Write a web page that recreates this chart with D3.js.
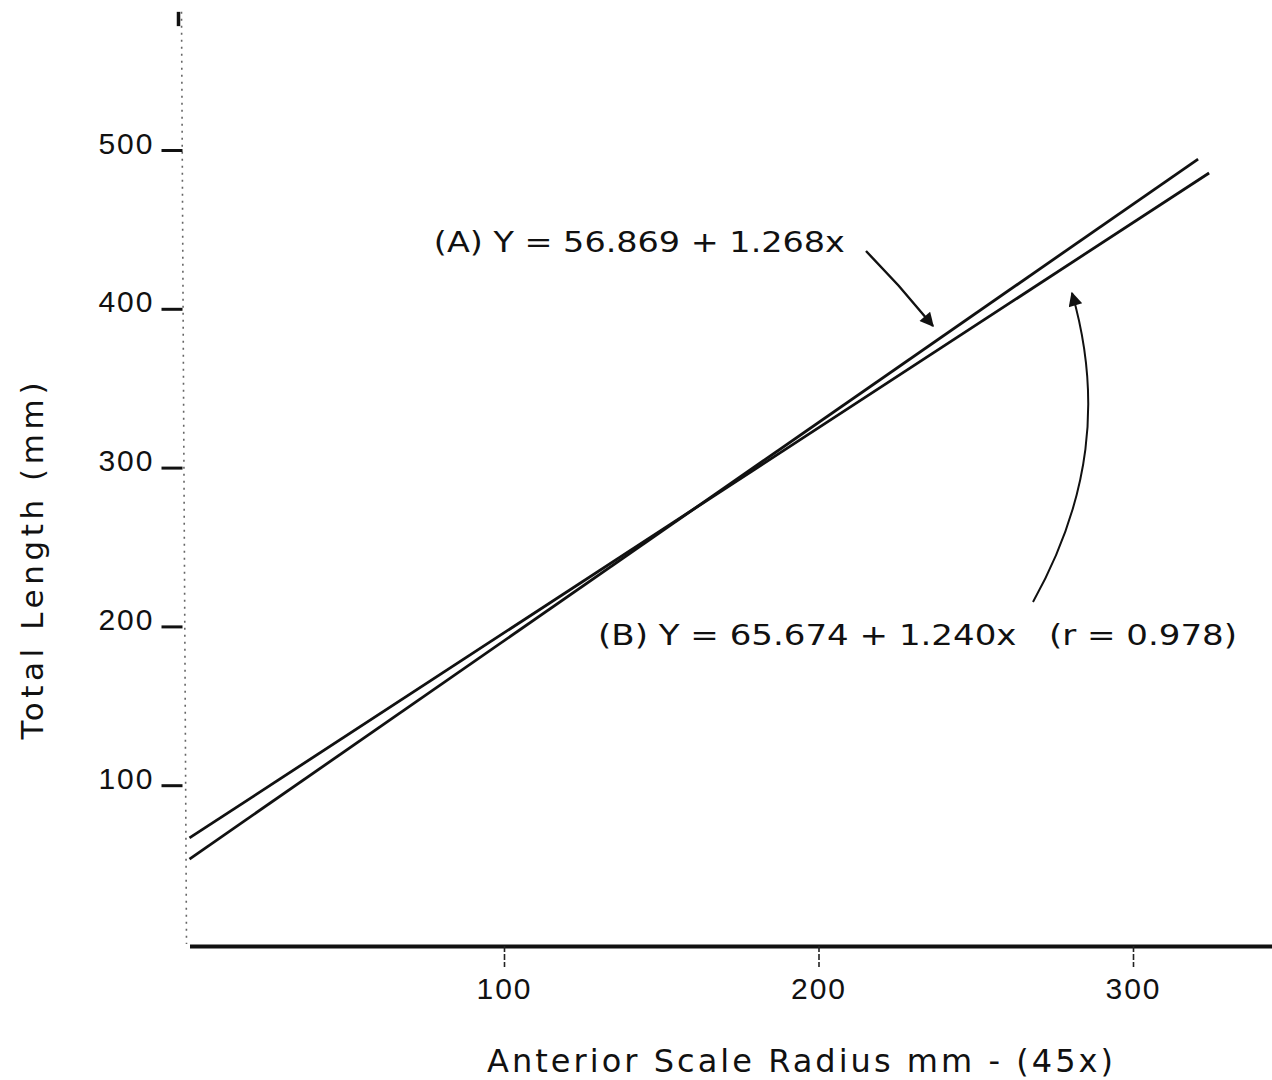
<!DOCTYPE html>
<html>
<head>
<meta charset="utf-8">
<script src="https://cdn.jsdelivr.net/npm/d3@7"></script>
<style>
  body { margin: 0; background: #fff; }
  svg { display: block; font-family: "DejaVu Sans", sans-serif; }
</style>
</head>
<body>
<svg id="chart" width="1272" height="1080"></svg>
<script>
// values
const xTicks = [100, 200, 300];
const yTicks = [100, 200, 300, 400, 500];
const lineAx = [0, 320.7];
const lineAy = [53.5, 494.3];
const lineBx = [0, 324.2];
const lineBy = [66.8, 485.5];
const labelA = "(A) Y = 56.869 + 1.268x";
const labelB = "(B) Y = 65.674 + 1.240x   (r = 0.978)";
const xTitle = "Anterior Scale Radius mm - (45x)";
const yTitle = "Total Length (mm)";

const svg = d3.select("#chart");

const x = d3.scaleLinear().domain([0, 345]).range([189.5, 189.5 + 345 * 3.145]);
const y = d3.scaleLinear().domain([0, 500]).range([944, 150]);

// arrowheads
const defs = svg.append("defs");
defs.append("marker")
  .attr("id", "head")
  .attr("viewBox", "0 0 10 10")
  .attr("refX", 9).attr("refY", 5)
  .attr("markerWidth", 17).attr("markerHeight", 14)
  .attr("markerUnits", "userSpaceOnUse")
  .attr("orient", "auto")
  .append("path")
  .attr("d", "M0,0 L10,5 L0,10 Z")
  .attr("fill", "#111");

// y axis (faint dotted hand-drawn line)
svg.append("line")
  .attr("x1", x(0) - 8).attr("x2", x(0) - 3)
  .attr("y1", y(587)).attr("y2", y(0))
  .attr("stroke", "#666")
  .attr("stroke-width", 1.6)
  .attr("stroke-dasharray", "2,5");
svg.append("line")
  .attr("x1", x(0) - 11).attr("x2", x(0) - 11)
  .attr("y1", y(587)).attr("y2", y(578))
  .attr("stroke", "#111")
  .attr("stroke-width", 3.5);

const yAxis = svg.append("g")
  .attr("transform", "translate(" + (x(0) - 7) + ",0)")
  .call(d3.axisLeft(y).tickValues(yTicks).tickSize(21).tickPadding(7));
yAxis.select(".domain").remove();
yAxis.selectAll(".tick line")
  .attr("stroke", "#111")
  .attr("stroke-width", 3);
yAxis.selectAll(".tick text")
  .attr("dy", "0.1em")
  .style("font-size", "30px")
  .style("letter-spacing", "2px")
  .attr("fill", "#111");

// x axis
const xAxis = svg.append("g")
  .attr("transform", "translate(0,946)")
  .call(d3.axisBottom(x).tickValues(xTicks).tickSize(21).tickSizeOuter(0).tickPadding(11));
xAxis.select(".domain")
  .attr("stroke", "#111")
  .attr("stroke-width", 4);
xAxis.selectAll(".tick line")
  .attr("stroke", "#222")
  .attr("stroke-width", 1.6)
  .attr("stroke-dasharray", "6,2");
xAxis.selectAll(".tick text")
  .style("font-size", "30px")
  .style("letter-spacing", "2px")
  .attr("fill", "#111");

// regression lines
const line = d3.line().x(d => x(d[0])).y(d => y(d[1]));
[[lineAx, lineAy], [lineBx, lineBy]].forEach(([xs, ys]) => {
  svg.append("path")
    .datum(d3.zip(xs, ys))
    .attr("d", line)
    .attr("fill", "none")
    .attr("stroke", "#111")
    .attr("stroke-width", 2.8);
});

// equation labels
svg.append("text")
  .attr("x", x(77.7)).attr("y", y(435.6))
  .attr("textLength", 411)
  .attr("lengthAdjust", "spacingAndGlyphs")
  .style("font-size", "28px")
  .style("white-space", "pre")
  .attr("fill", "#111")
  .text(labelA);

svg.append("text")
  .attr("x", x(129.9)).attr("y", y(188.3))
  .attr("textLength", 639)
  .attr("lengthAdjust", "spacingAndGlyphs")
  .style("font-size", "28px")
  .style("white-space", "pre")
  .attr("fill", "#111")
  .text(labelB);

// arrows
svg.append("path")
  .attr("d", d3.line()([[x(215.1), y(436.4)], [x(225.5), y(414.5)], [x(236.4), y(389.2)]]))
  .attr("fill", "none")
  .attr("stroke", "#111")
  .attr("stroke-width", 2.4)
  .attr("marker-end", "url(#head)");

const pb = d3.path();
pb.moveTo(x(268.2), y(215.4));
pb.bezierCurveTo(x(286.3), y(279.6), x(290.4), y(342.6), x(280.6), y(409.9));
svg.append("path")
  .attr("d", pb.toString())
  .attr("fill", "none")
  .attr("stroke", "#111")
  .attr("stroke-width", 2)
  .attr("marker-end", "url(#head)");

// axis titles
svg.append("text")
  .attr("x", 800).attr("y", 1072)
  .attr("text-anchor", "middle")
  .attr("textLength", 626)
  .attr("lengthAdjust", "spacing")
  .style("font-size", "32px")
  .attr("fill", "#111")
  .text(xTitle);

svg.append("text")
  .attr("transform", "translate(43,561) rotate(-90)")
  .attr("text-anchor", "middle")
  .attr("textLength", 357)
  .attr("lengthAdjust", "spacing")
  .style("font-size", "31px")
  .attr("fill", "#111")
  .text(yTitle);
</script>
</body>
</html>
